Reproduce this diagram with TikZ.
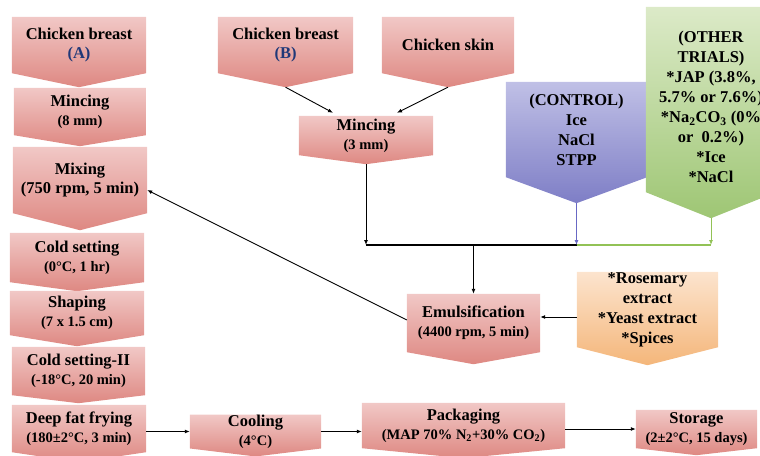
\documentclass[tikz,border=0pt]{standalone}
\usepackage{fontspec}
\setmainfont{Liberation Serif}
\usetikzlibrary{arrows.meta,backgrounds}

\definecolor{pinktop}{RGB}{241,200,198}
\definecolor{pinkbot}{RGB}{222,136,130}
\definecolor{lilactop}{RGB}{192,192,230}
\definecolor{lilacbot}{RGB}{126,126,198}
\definecolor{leaftop}{RGB}{220,234,200}
\definecolor{leafbot}{RGB}{158,198,116}
\definecolor{peachtop}{RGB}{252,228,206}
\definecolor{peachbot}{RGB}{244,182,122}
\definecolor{tagblue}{RGB}{32,56,120}
\definecolor{lilacline}{RGB}{104,104,196}
\definecolor{leafline}{RGB}{146,194,86}

\newcommand\titlesize{\fontsize{16.5}{19}\selectfont}
\newcommand\subsize{\fontsize{14.5}{19}\selectfont}

\begin{document}
\begin{tikzpicture}[x=1pt,y=-1pt,
  stage/.style={align=center,inner sep=0pt,font=\titlesize\bfseries},
  tall/.style={font=\fontsize{16.5}{20}\selectfont\bfseries},
  wh/.style 2 args={minimum width=#1pt,minimum height=#2pt},
  pinkshade/.style={top color=pinktop,bottom color=pinkbot},
  lilacshade/.style={top color=lilactop,bottom color=lilacbot},
  leafshade/.style={top color=leaftop,bottom color=leafbot},
  peachshade/.style={top color=peachtop,bottom color=peachbot},
  >={Latex[length=5pt,width=4pt]},
  flow/.style={->,line width=0.9pt}]
\useasboundingbox (0,0) rectangle (760,455);

%% Line A
\node[stage,wh={134}{56}] (brA) at (79,45) {Chicken breast\\\textcolor{tagblue}{(A)}};
\node[stage,wh={132}{47}] (mincA) at (80,111.5) {Mincing\\{\subsize(8 mm)}};
\node[stage,wh={134}{66}] (mix) at (80,180) {Mixing\\(750 rpm, 5 min)};
\node[stage,wh={134}{49}] (coldA) at (77,257.5) {Cold setting\\{\subsize(0°C, 1 hr)}};
\node[stage,wh={134}{44}] (shape) at (77,313) {Shaping\\{\subsize(7 x 1.5 cm)}};
\node[stage,wh={133}{48}] (coldB) at (78.5,371) {Cold setting-II\\{\subsize(-18°C, 20 min)}};
\node[stage,wh={134}{47}] (fry) at (79,428.5) {Deep fat frying\\{\subsize(180±2°C, 3 min)}};

%% Line B
\node[stage,wh={135}{56}] (brB) at (285.5,45) {Chicken breast\\\textcolor{tagblue}{(B)}};
\node[stage,wh={132}{56}] (skin) at (448,45) {Chicken skin};
\node[stage,wh={134}{39}] (mincB) at (366,135.5) {Mincing\\{\subsize(3 mm)}};
\node[stage,tall,wh={141}{95}] (control) at (576.5,129.5) {(CONTROL)\\Ice\\NaCl\\STPP};
\node[stage,tall,wh={130}{170}] (other) at (711,107) {(OTHER\\TRIALS)\\*JAP (3.8\%,\\5.7\% or 7.6\%)\\*Na\textsubscript{2}CO\textsubscript{3} (0\%\\or~~0.2\%)\\*Ice\\*NaCl};
\node[stage,wh={133}{58}] (emul) at (473.5,323) {Emulsification\\{\subsize(4400 rpm, 5 min)}};
\node[stage,tall,wh={141}{75}] (extra) at (647.5,309.5) {*Rosemary\\extract\\*Yeast extract\\*Spices};

%% Bottom row
\node[stage,wh={131}{33}] (cool) at (255.5,431.5) {Cooling\\{\subsize(4°C)}};
\node[stage,wh={203}{45}] (pack) at (463.5,425.5) {Packaging\\{\subsize(MAP 70\% N\textsubscript{2}+30\% CO\textsubscript{2})}};
\node[stage,wh={121}{38}] (store) at (696.5,429) {Storage\\{\subsize(2±2°C, 15 days)}};

%% Pentagon bodies
\begin{pgfonlayer}{background}
\foreach \n/\t/\s in {brA/14/pinkshade, mincA/11/pinkshade, mix/17/pinkshade,
    coldA/9/pinkshade, shape/11/pinkshade, coldB/8/pinkshade, fry/10/pinkshade,
    brB/14/pinkshade, skin/14/pinkshade, mincB/9/pinkshade, control/26/lilacshade,
    emul/12/pinkshade, extra/18/peachshade, cool/8/pinkshade, pack/10/pinkshade,
    store/7/pinkshade}
  \shade[\s] (\n.north west) -- (\n.north east) -- (\n.south east)
    -- ([yshift=-\t pt]\n.south) coordinate (\n-tip) -- (\n.south west) -- cycle;
\shade[leafshade] ([yshift=15pt]other.north west) -- ([yshift=15pt]other.north east)
  -- (other.south east) -- ([yshift=-26pt]other.south) coordinate (other-tip)
  -- (other.south west) -- cycle;
\end{pgfonlayer}

%% Connectors
\draw[flow] (brB-tip) -- ([xshift=-33pt,yshift=3pt]mincB.north);
\draw[flow] (skin-tip) -- ([xshift=31pt,yshift=3pt]mincB.north);

\coordinate (busL) at (mincB-tip |- 0,245);
\coordinate (busM) at (control-tip |- busL);
\coordinate (busR) at (other-tip |- busL);
\draw[flow] (mincB-tip) -- (busL);
\draw[line width=1.5pt] (busL) -- (busM);
\draw[line width=1.5pt,leafline] (busM) -- (busR);
\draw[flow,lilacline] (control-tip) -- (busM);
\draw[flow,leafline] (other-tip) -- (busR);
\draw[flow] (busL -| emul.north) -- (emul.north);

\draw[flow] ([yshift=-7.5pt]extra.west) -- ([yshift=6pt]emul.east);
\draw[flow] ([yshift=3pt]emul.west) -- ([yshift=-10pt]mix.east);

\draw[flow] (fry.east |- cool.west) -- (cool.west);
\draw[flow] (cool.east) -- (cool.east -| pack.west);
\draw[flow] (pack.east |- store.west) -- (store.west);

\end{tikzpicture}
\end{document}
